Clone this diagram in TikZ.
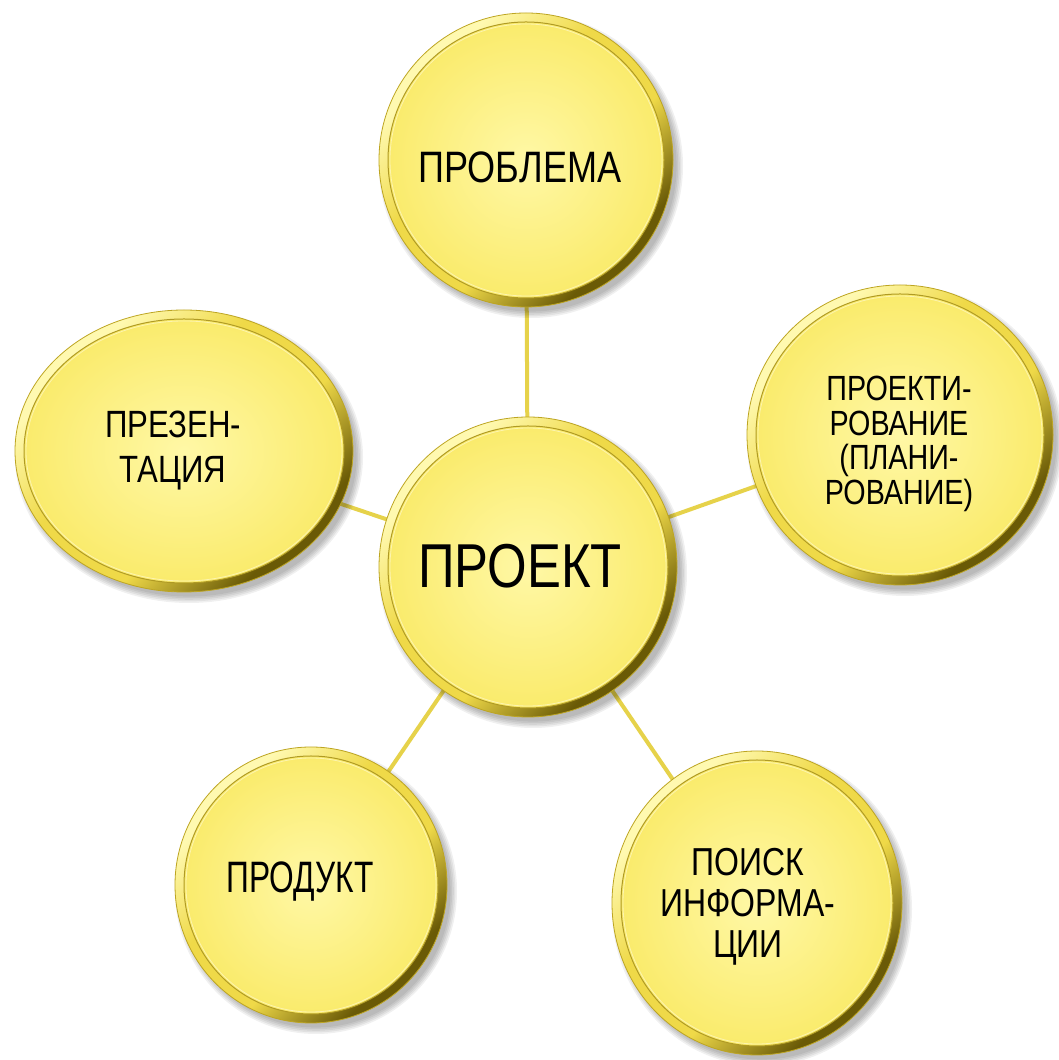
\documentclass[tikz,border=0pt]{standalone}
\usepackage{fontspec}
\setmainfont{Liberation Sans}
\newfontfamily\cf[FakeStretch=0.82]{Liberation Sans}
\newfontfamily\cfn[FakeStretch=0.72]{Liberation Sans}
\usetikzlibrary{shapes.geometric,backgrounds}
\definecolor{rimlight}{HTML}{FFF9B0}
\definecolor{rimmid}{HTML}{EFD948}
\definecolor{rimdark}{HTML}{6A5A06}
\definecolor{rimedge}{HTML}{BDA522}
\definecolor{fillin}{HTML}{FFF8A6}
\definecolor{fillout}{HTML}{FAEB6C}
\definecolor{groove}{HTML}{B09A24}
\definecolor{linkcol}{HTML}{E6D24A}
\pgfdeclareverticalshading{rimshade}{100bp}{color(0bp)=(rimdark); color(28bp)=(rimdark); color(42bp)=(rimmid); color(58bp)=(rimmid); color(72bp)=(rimlight); color(100bp)=(rimlight)}
\tikzset{
  bubble/.style={ellipse, inner sep=0pt, outer sep=0pt, draw=rimedge, line width=0.8pt, shading=rimshade, shading angle=45},
  innerdisk/.style={shade, inner color=fillin, outer color=fillout, draw=groove, line width=1pt},
  lbl/.style={align=center, text=black, inner sep=0pt},
  link/.style={draw=linkcol, line width=4pt}
}
\newcommand\bubble[5]{%
  \foreach \k in {1,...,5}{\fill[black,opacity=0.06] ({#2+5},{#3-6}) ellipse ({#4+\k*1.6-3} and {#5+\k*1.6-3});}
  \node[bubble, minimum width={2*#4}, minimum height={2*#5}] (#1) at (#2,#3) {};
  \path[innerdisk] (#1.center) ellipse ({#4-9} and {#5-9});
  \draw[white, opacity=0.45, line width=0.8pt] (#1.center) ellipse ({#4-11} and {#5-11});
}
\begin{document}
\begin{tikzpicture}[x=1pt,y=1pt]
\begin{pgfonlayer}{background}
\fill[white] (0,0) rectangle (1058,1060);
\end{pgfonlayer}
\useasboundingbox (0,0) rectangle (1058,1060);
\bubble{prob}{526}{900}{147}{147}
\bubble{prez}{184}{609}{169}{141}
\bubble{plan}{900}{625}{153}{150}
\bubble{proekt}{528}{493}{149}{150}
\bubble{prod}{311}{175}{136}{138}
\bubble{poisk}{757}{157}{145}{152}
\node[lbl, font={\cf\fontsize{44}{44}\selectfont}] (t-prob) at (520,893) {ПРОБЛЕМА};
\node[lbl, font={\cf\fontsize{38}{45}\selectfont}] (t-prez) at (173,609) {ПРЕЗЕН-\\ТАЦИЯ};
\node[lbl, font={\cf\fontsize{35}{34.5}\selectfont}] (t-plan) at (899,616) {ПРОЕКТИ-\\РОВАНИЕ\\(ПЛАНИ-\\РОВАНИЕ)};
\node[lbl, font={\cf\fontsize{62}{62}\selectfont}] (t-proekt) at (520,494) {ПРОЕКТ};
\node[lbl, font={\cfn\fontsize{44}{44}\selectfont}] (t-prod) at (300,178) {ПРОДУКТ};
\node[lbl, font={\cf\fontsize{39}{41}\selectfont}] (t-poisk) at (748,153) {ПОИСК\\ИНФОРМА-\\ЦИИ};
\begin{pgfonlayer}{background}
\draw[link] (prob) -- (proekt);
\draw[link] (prez) -- (proekt);
\draw[link] (plan) -- (proekt);
\draw[link] (prod) -- (proekt);
\draw[link] (poisk) -- (proekt);
\end{pgfonlayer}
\end{tikzpicture}
\end{document}
